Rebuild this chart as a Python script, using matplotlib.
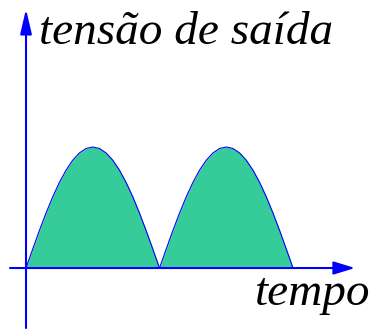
import matplotlib.pyplot as plt
import numpy as np
from matplotlib.patches import FancyArrowPatch

# one rectified half cycle (output voltage, peak = 1)
v_hump = [0.0, 0.156, 0.309, 0.454, 0.588, 0.707, 0.809, 0.891, 0.951, 0.988, 1.0,
          0.988, 0.951, 0.891, 0.809, 0.707, 0.588, 0.454, 0.309, 0.156, 0.0]
hump_starts = [0, 10]     # time where each half cycle begins
half_period = 10

y_label = "tensão de saída"
x_label = "tempo"

fig = plt.figure(figsize=(3.73, 3.29), dpi=100)
ax = fig.add_axes([0, 0, 1, 1])
ax.set_xlim(-1.948, 25.99)
ax.set_ylim(-0.504, 2.215)
ax.axis('off')

green = '#36CC99'
for t0 in hump_starts:
    t = np.linspace(t0, t0 + half_period, len(v_hump))
    ax.fill_between(t, 0, v_hump, color=green, lw=0)
    ax.plot(t, v_hump, color='blue', lw=0.8)

# axes with arrow heads
xarr = FancyArrowPatch((-1.2, 0), (24.64, 0), arrowstyle='-|>,head_length=13,head_width=4',
                       mutation_scale=1, color='blue', lw=1.5, shrinkA=0, shrinkB=0)
yarr = FancyArrowPatch((0, -0.496), (0, 2.14), arrowstyle='-|>,head_length=15,head_width=3.5',
                       mutation_scale=1, color='blue', lw=1.5, shrinkA=0, shrinkB=0)
ax.add_patch(xarr)
ax.add_patch(yarr)

ax.text(39 / 373, 1 - 44 / 329, y_label, transform=ax.transAxes, ha='left', va='baseline',
        fontsize=34, fontstyle='italic', family='Liberation Serif')
ax.text(370 / 373, 1 - 305 / 329, x_label, transform=ax.transAxes, ha='right', va='baseline',
        fontsize=34, fontstyle='italic', family='Liberation Serif')

plt.savefig('out.png', dpi=100)
